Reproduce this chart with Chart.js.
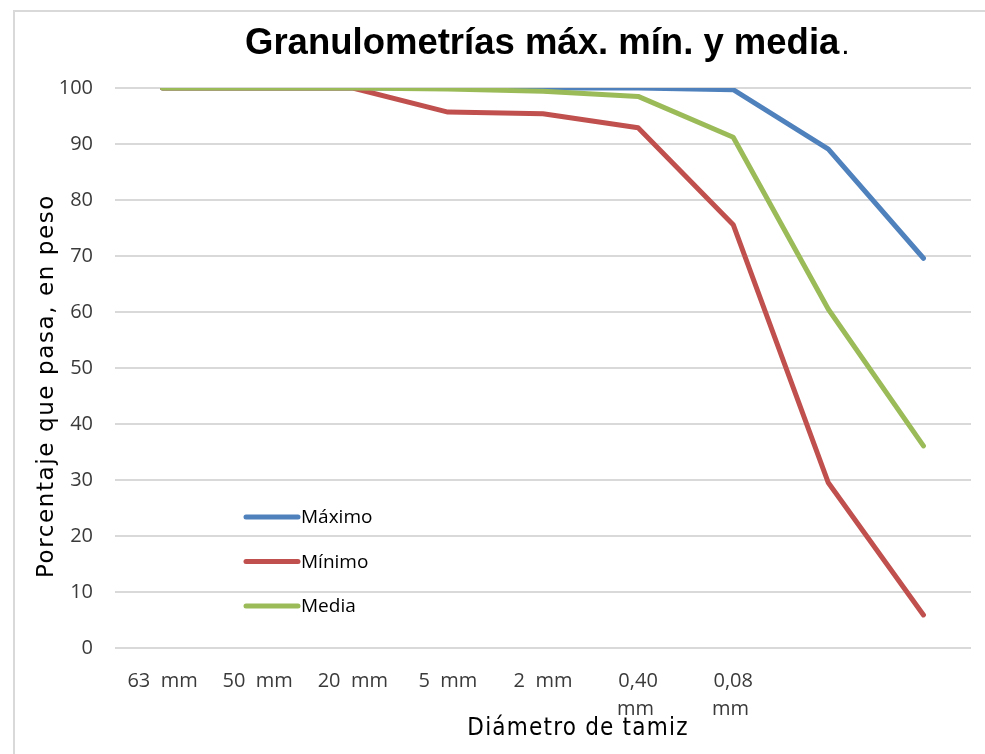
<!DOCTYPE html>
<html>
<head>
<meta charset="utf-8">
<script src="https://cdn.jsdelivr.net/npm/chart.js@4.4.0/dist/chart.umd.min.js"></script>
<style>
  html, body { margin: 0; padding: 0; background: #fff; }
  #wrap { width: 985px; height: 754px; position: relative; }
</style>
</head>
<body>
<div id="wrap"><canvas id="granChart"></canvas></div>
<script>
const tamices = ['63  mm', '50  mm', '20  mm', '5  mm', '2  mm', ['0,40', 'mm '], ['0,08', 'mm '], '', ''];
const maximo = [100, 100, 100, 100, 100, 100, 99.7, 89.1, 69.6];
const minimo = [100, 100, 100, 95.7, 95.4, 92.9, 75.6, 29.5, 5.9];
const media = [100, 100, 100, 99.8, 99.4, 98.5, 91.2, 60.5, 36.1];
const yTicks = [0, 10, 20, 30, 40, 50, 60, 70, 80, 90, 100];

const colors = { max: '#4F81BD', min: '#C0504D', med: '#9BBB59' };

// titles, legend and outer frame drawn by hand to match the original placement
const decor = {
  id: 'decor',
  afterDraw(chart) {
    const ctx = chart.ctx;
    ctx.save();
    ctx.strokeStyle = '#d9d9d9';
    ctx.lineWidth = 2;
    ctx.beginPath();
    ctx.moveTo(14, 754);
    ctx.lineTo(14, 11);
    ctx.lineTo(985, 11);
    ctx.stroke();

    ctx.fillStyle = '#000';
    ctx.textBaseline = 'middle';
    ctx.font = 'bold 36.5px "Liberation Sans", Arial, sans-serif';
    const t = 'Granulometrías máx. mín. y media';
    ctx.textAlign = 'left';
    ctx.fillText(t, 245, 44);
    const w = ctx.measureText(t).width;
    ctx.font = '30px "Liberation Sans", Arial, sans-serif';
    ctx.fillText('.', 245 + w + 2, 46);

    ctx.letterSpacing = '1.2px';
    ctx.font = '24px "DejaVu Sans Condensed", "DejaVu Sans", sans-serif';
    ctx.textAlign = 'center';
    ctx.fillText('Diámetro de tamiz', 578, 729);

    ctx.save();
    ctx.translate(47, 386);
    ctx.rotate(-Math.PI / 2);
    ctx.letterSpacing = '1.6px';
    ctx.font = '23px "DejaVu Sans", sans-serif';
    ctx.fillText('Porcentaje que pasa, en peso', 0, 0);
    ctx.restore();

    ctx.letterSpacing = '0px';
    ctx.font = '19px "Open Sans", sans-serif';
    ctx.textAlign = 'left';
    chart.data.datasets.forEach((ds, i) => {
      const y = 517 + i * 44.5;
      ctx.strokeStyle = ds.borderColor;
      ctx.lineWidth = 5;
      ctx.lineCap = 'round';
      ctx.beginPath();
      ctx.moveTo(246, y);
      ctx.lineTo(298, y);
      ctx.stroke();
      ctx.fillText(ds.label, 301, y + 1);
    });
    ctx.restore();
  }
};

new Chart(document.getElementById('granChart'), {
  type: 'line',
  data: {
    labels: tamices,
    datasets: [
      { label: 'Máximo', data: maximo, borderColor: colors.max, backgroundColor: colors.max, order: 3 },
      { label: 'Mínimo', data: minimo, borderColor: colors.min, backgroundColor: colors.min, order: 2 },
      { label: 'Media', data: media, borderColor: colors.med, backgroundColor: colors.med, order: 1 }
    ]
  },
  options: {
    responsive: true,
    maintainAspectRatio: false,
    animation: false,
    elements: {
      line: { borderWidth: 5, tension: 0, borderCapStyle: 'round', borderJoinStyle: 'round' },
      point: { radius: 0, hoverRadius: 0 }
    },
    layout: { padding: { left: 0, top: 88, right: 14, bottom: 0 } },
    plugins: {
      legend: { display: false },
      title: { display: false },
      tooltip: { enabled: false }
    },
    scales: {
      x: {
        offset: true,
        grid: { display: false, drawTicks: false },
        border: { display: false },
        afterFit(scale) { scale.height = 106; },
        ticks: {
          autoSkip: false,
          maxRotation: 0,
          minRotation: 0,
          padding: 19,
          color: '#3a3a3a',
          font: { family: '"Open Sans", sans-serif', size: 20, lineHeight: 1.4 }
        }
      },
      y: {
        min: 0,
        max: 100,
        afterFit(scale) { scale.width = 115; },
        afterBuildTicks(scale) { scale.ticks = yTicks.map(v => ({ value: v })); },
        grid: { color: '#d9d9d9', lineWidth: 2, drawTicks: false },
        border: { display: false },
        ticks: {
          padding: 22,
          color: '#3a3a3a',
          font: { family: '"Open Sans", sans-serif', size: 20 }
        }
      }
    }
  },
  plugins: [decor]
});
</script>
</body>
</html>
